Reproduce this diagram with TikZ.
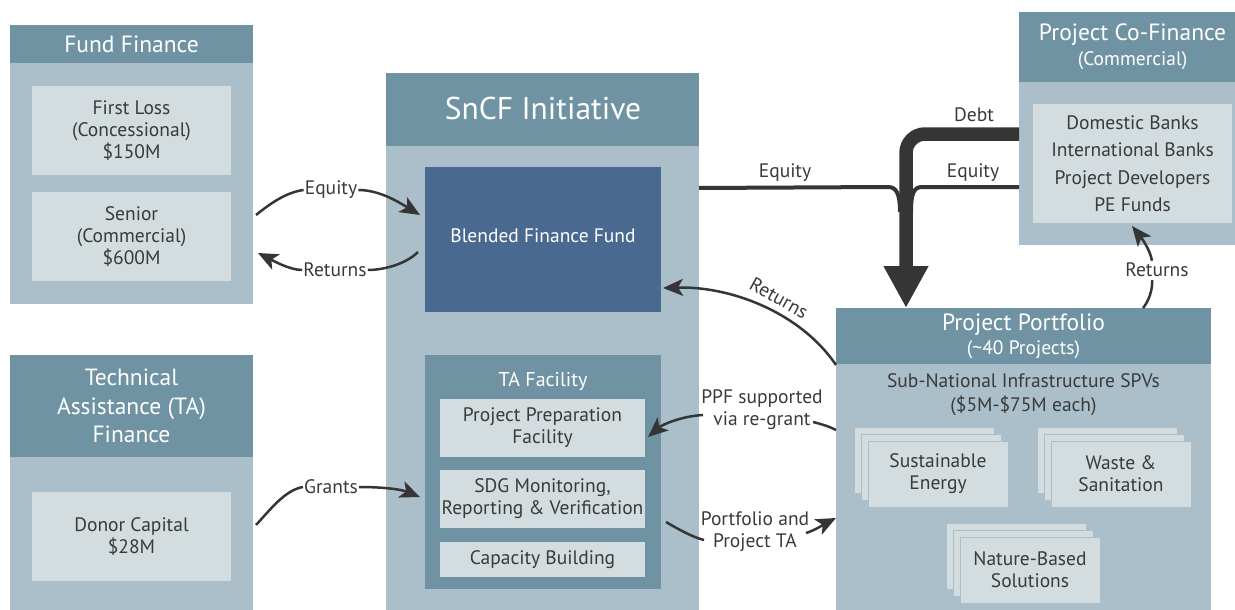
\documentclass[tikz,border=0pt]{standalone}
\usepackage{fontspec}
\setmainfont{PT Sans}
\usetikzlibrary{arrows.meta,calc}
\definecolor{hdr}{HTML}{7093A4}
\definecolor{bodyc}{HTML}{AABFC9}
\definecolor{innerc}{HTML}{D3DCDF}
\definecolor{fundc}{HTML}{4A6990}
\definecolor{txtc}{HTML}{3A3A3A}
\definecolor{arrc}{HTML}{353535}
\newcommand{\fsz}[2]{\fontsize{#1}{#2}\selectfont}
\begin{document}
\begin{tikzpicture}[x=1pt,y=-1pt,
 box/.style={anchor=north west, inner sep=0pt, outer sep=0pt, draw=none},
 panel/.style={box, fill=bodyc},
 head/.style={box, fill=hdr},
 card/.style={box, fill=innerc, text=txtc, align=center, font=\fsz{19.5}{22}},
 hdtxt/.style={text=white, align=center, inner sep=0pt, font=\fsz{23.5}{28.5}},
 subtxt/.style={text=white, align=center, inner sep=0pt, font=\fsz{19.5}{22}},
 lbl/.style={text=txtc, align=center, inner sep=1pt, font=\fsz{19.5}{22}},
 conn/.style={draw=arrc, line width=2.5pt},
 arr/.style={conn, -{Stealth[length=20pt,width=17pt,inset=5pt]}},
 spv/.style={box, fill=innerc, draw=bodyc, line width=1pt, minimum width=140pt, minimum height=66pt, text=txtc, align=center, font=\fsz{19.5}{22}},
]
\useasboundingbox (0,0) rectangle (1235,610);

% ---------- Fund Finance ----------
\node[panel, minimum width=243pt, minimum height=279pt] (ff) at (10,25) {};
\node[head, minimum width=243pt, minimum height=38pt] (ffh) at (10,25) {};
\node[hdtxt] (fft) at (131.5,44) {Fund Finance};
\node[card, minimum width=199pt, minimum height=89pt] (fl) at (32,86) {First Loss\\(Concessional)\\\$150M};
\node[card, minimum width=199pt, minimum height=89pt] (sen) at (32,192) {Senior\\(Commercial)\\\$600M};

% ---------- TA Finance ----------
\node[panel, minimum width=243pt, minimum height=255pt] (taf) at (10,355) {};
\node[head, minimum width=243pt, minimum height=102pt] (tafh) at (10,355) {};
\node[hdtxt] (taft) at (131.5,406) {Technical\\Assistance (TA)\\Finance};
\node[card, minimum width=199pt, minimum height=89pt] (donor) at (32,492) {Donor Capital\\\$28M};

% ---------- SnCF Initiative ----------
\node[panel, minimum width=313pt, minimum height=537pt] (sn) at (386,73) {};
\node[head, minimum width=313pt, minimum height=73pt] (snh) at (386,73) {};
\node[hdtxt, font=\fsz{31.5}{36}] (snt) at (543,108) {SnCF Initiative};
\node[box, fill=fundc, minimum width=236pt, minimum height=145pt] (bff) at (425,167) {};
\node[subtxt] (bfft) at (543,236) {Blended Finance Fund};
\node[head, minimum width=236pt, minimum height=234pt] (tafac) at (425,355) {};
\node[subtxt, font=\fsz{20}{22}] (tafact) at (543,381) {TA Facility};
\node[card, minimum width=205pt, minimum height=58pt] (ppf) at (440,399) {Project Preparation\\Facility};
\node[card, minimum width=205pt, minimum height=58pt] (sdg) at (440,470) {SDG Monitoring,\\Reporting \& Verification};
\node[card, minimum width=205pt, minimum height=35pt] (cap) at (440,542) {Capacity Building};

% ---------- Project Co-Finance ----------
\node[panel, minimum width=216pt, minimum height=233pt] (cf) at (1019,12) {};
\node[head, minimum width=216pt, minimum height=70pt] (cfh) at (1019,12) {};
\node[hdtxt] (cft) at (1132.5,35) {Project Co-Finance};
\node[subtxt] (cfs) at (1132.5,61) {(Commercial)};
\node[card, minimum width=199pt, minimum height=119pt, font=\fsz{19.5}{27.5}] (cfi) at (1033,104) {Domestic Banks\\International Banks\\Project Developers\\PE Funds};

% ---------- Project Portfolio ----------
\node[panel, minimum width=375pt, minimum height=302pt] (pp) at (836,308) {};
\node[head, minimum width=375pt, minimum height=56pt] (pph) at (836,308) {};
\node[hdtxt, font=\fsz{23.5}{26}] (ppt) at (1023.5,325) {Project Portfolio};
\node[subtxt] (pps) at (1023.5,350) {(\textasciitilde40 Projects)};
\node[lbl, font=\fsz{19.5}{24}] (spvt) at (1023.5,395) {Sub-National Infrastructure SPVs\\(\$5M-\$75M each)};
\node[spv] (se3) at (854,427) {};
\node[spv] (se2) at (861,434) {};
\node[spv] (se1) at (868,441) {Sustainable\\Energy};
\node[spv] (ws3) at (1037,427) {};
\node[spv] (ws2) at (1044,434) {};
\node[spv] (ws1) at (1051,441) {Waste \&\\Sanitation};
\node[spv] (nb3) at (946,523) {};
\node[spv] (nb2) at (953,530) {};
\node[spv] (nb1) at (960,537) {Nature-Based\\Solutions};

% ---------- Connectors ----------
% Equity: fund finance -> blended fund
\node[lbl] (leq1) at (331,190) {Equity};
\coordinate (eq1s) at ($(ff.north east)+(3,190)$);
\coordinate (eq1e) at ($(bff.north west)+(-5,48)$);
\draw[conn] (eq1s) .. controls +(16,-13) and +(-16,2) .. (leq1.west);
\draw[arr] (leq1.east) .. controls +(22,0) and +(-20,-12) .. (eq1e);

% Returns: blended fund -> fund finance
\node[lbl] (lret1) at (335,270) {Returns};
\coordinate (r1s) at ($(bff.north west)+(-7,85)$);
\coordinate (r1e) at ($(ff.north east)+(5,228)$);
\draw[conn] (r1s) .. controls +(-12,12) and +(16,0) .. (lret1.east);
\draw[arr] (lret1.west) .. controls +(-13,0) and +(14,7) .. (r1e);

% Grants
\node[lbl] (lgr) at (331,487) {Grants};
\coordinate (gs) at ($(taf.north east)+(3,170)$);
\coordinate (ge) at ($(tafac.north west)+(-5,142)$);
\draw[conn] (gs) .. controls +(14,-15) and +(-18,3) .. (lgr.west);
\draw[arr] (lgr.east) .. controls +(22,0) and +(-20,-8) .. (ge);

% Returns: portfolio -> blended fund
\coordinate (r2s) at ($(pp.north west)+(0,57)$);
\coordinate (r2e) at ($(bff.north east)+(2,121)$);
\draw[arr] (r2s) .. controls (800,312) and (730,286) .. (r2e);
\node[lbl, rotate=-29, inner sep=0pt] (lret2) at (779,298) {Returns};

% PPF supported via re-grant
\node[lbl] (lppf) at (762,410) {PPF supported\\via re-grant};
\coordinate (ps) at ($(pp.north west)+(0,122)$);
\coordinate (p1) at (813,422);
\coordinate (p2) at (703,415);
\coordinate (pe) at ($(ppf.east)+(3,9)$);
\draw[conn] (ps) .. controls +(-8,-4) and +(8,2) .. (p1);
\draw[arr] (p2) .. controls +(-20,1) and +(15,-13) .. (pe);

% Portfolio and Project TA
\node[lbl] (lpt) at (755,532) {Portfolio and\\Project TA};
\coordinate (ts) at ($(sdg.south east)+(21,-6)$);
\coordinate (t1) at (704,540);
\coordinate (t2) at (806,533);
\coordinate (te) at ($(pp.north west)+(0,210)$);
\draw[conn] (ts) .. controls +(12,7) and +(-12,-3) .. (t1);
\draw[arr] (t2) .. controls +(10,-3) and +(-10,5) .. (te);

% Returns: portfolio -> co-finance
\node[lbl] (lret3) at (1157,270) {Returns};
\coordinate (r3s) at ($(pp.north west)+(307,0)$);
\coordinate (r3e) at ($(cfi.south west)+(99,3)$);
\draw[conn] (r3s) .. controls +(6,-7) and +(1,8) .. ($(lret3.south)+(-5,2)$);
\draw[arr] ($(lret3.north)+(-5,-1)$) .. controls +(-2,-12) and +(8,10) .. (r3e);

% Equity lines and Debt
\node[lbl] (leq2) at (785,173) {Equity};
\node[lbl] (leq3) at (973,173) {Equity};
\node[lbl] (ldebt) at (974,115) {Debt};
\coordinate (e2s) at ($(sn.north east)+(0,115)$);
\coordinate (e3s) at ($(cf.north west)+(0,175)$);
\draw[conn, line width=4pt] (e2s) -- (888,187) .. controls (896,187) and (900,193) .. (900,212);
\draw[conn, line width=4pt] (e3s) -- (922,187) .. controls (914,187) and (911,193) .. (911,212);
\coordinate (ds) at ($(cf.north west)+(0,122)$);
\coordinate (de) at ($(pp.north west)+(70,0)$);
\draw[draw=arrc, line width=13.5pt, rounded corners=19pt, -{Triangle[length=42pt,width=42pt]}] (ds) -| (de);
\end{tikzpicture}
\end{document}
